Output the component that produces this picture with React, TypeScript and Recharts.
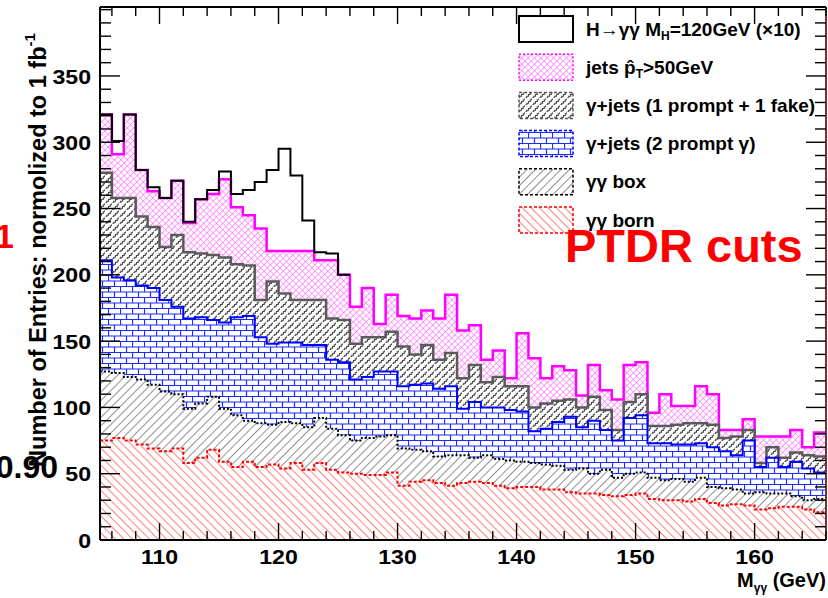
import { Area, ComposedChart, Line, XAxis, YAxis } from "recharts";

// 1 GeV bins, lower edges (GeV)
const massBins = [
  105, 106, 107, 108, 109, 110, 111, 112, 113, 114, 115, 116, 117, 118, 119, 120,
  121, 122, 123, 124, 125, 126, 127, 128, 129, 130, 131, 132, 133, 134, 135, 136,
  137, 138, 139, 140, 141, 142, 143, 144, 145, 146, 147, 148, 149, 150, 151, 152,
  153, 154, 155, 156, 157, 158, 159, 160, 161, 162, 163, 164, 165,
];
const upperEdge = 166;

const massTicks = [110, 120, 130, 140, 150, 160];
const massMinorTicks = [
  106, 108, 112, 114, 116, 118, 122, 124, 126, 128, 132, 134, 136, 138, 142, 144,
  146, 148, 152, 154, 156, 158, 162, 164, 166,
];
const entryTicks = [0, 50, 100, 150, 200, 250, 300, 350];
const entryMinorTicks = [
  10, 20, 30, 40, 60, 70, 80, 90, 110, 120, 130, 140, 160, 170, 180, 190, 210, 220,
  230, 240, 260, 270, 280, 290, 310, 320, 330, 340, 360, 370, 380, 390, 400,
];

// stacked (cumulative) bin contents, bottom layer first
const stackBorn = [
  75, 77, 75, 72, 69, 67, 69, 58, 62, 68, 59, 55, 59, 55, 57, 54, 58, 53, 58, 53, 51,
  50, 49, 49, 51, 41, 44, 45, 43, 41, 43, 44, 43, 41, 39, 40, 40, 38, 38, 36, 35, 35,
  34, 33, 34, 35, 31, 30, 30, 29, 31, 28, 26, 27, 26, 23, 24, 25, 25, 23, 21,
];
const stackBox = [
  127, 126, 123, 121, 117, 112, 110, 99, 103, 108, 99, 94, 90, 88, 87, 89, 88, 85, 92,
  84, 79, 75, 77, 78, 79, 69, 68, 67, 63, 64, 64, 62, 64, 61, 60, 59, 58, 57, 56, 53,
  54, 50, 53, 47, 50, 51, 47, 45, 46, 44, 47, 40, 39, 38, 35, 36, 35, 35, 33, 30, 31,
];
const stackPrompt2 = [
  211, 198, 196, 192, 190, 181, 176, 167, 168, 166, 164, 168, 169, 153, 148, 149, 149,
  147, 147, 136, 134, 121, 123, 127, 127, 116, 117, 118, 114, 116, 99, 104, 100, 100,
  98, 97, 82, 84, 89, 93, 85, 90, 83, 75, 92, 94, 73, 73, 72, 72, 73, 70, 67, 64, 75,
  55, 62, 55, 59, 54, 51,
];
const stackFake1 = [
  277, 258, 258, 244, 236, 221, 230, 217, 216, 215, 213, 208, 207, 181, 195, 186, 181,
  181, 181, 167, 166, 148, 153, 153, 157, 146, 140, 147, 136, 141, 122, 132, 119, 123,
  116, 116, 100, 103, 105, 106, 100, 108, 98, 83, 104, 110, 86, 86, 87, 88, 88, 87,
  77, 78, 83, 58, 70, 62, 66, 64, 63,
];
const stackJets = [
  321, 291, 321, 279, 263, 258, 271, 239, 257, 261, 272, 251, 245, 235, 218, 218, 218,
  218, 211, 211, 200, 176, 190, 163, 185, 169, 167, 173, 167, 185, 158, 162, 136, 143,
  122, 156, 137, 122, 131, 128, 109, 132, 113, 106, 132, 134, 96, 110, 101, 101, 116,
  110, 83, 83, 91, 78, 78, 78, 83, 70, 81,
];
// background + H->gg (x10), only where the signal sits (105-125 GeV)
const stackSignal = [
  321, 301, 321, 279, 266, 258, 271, 240, 257, 264, 278, 261, 264, 270, 279, 295, 275,
  241, 217, 216, 200,
];

const rows = [...massBins, upperEdge].map((m, i) => {
  const k = Math.min(i, massBins.length - 1);
  let signal: number | null = null;
  if (i < stackSignal.length) signal = stackSignal[i];
  else if (i === stackSignal.length) signal = stackSignal[i - 1];
  return {
    m,
    born: stackBorn[k],
    box: stackBox[k],
    prompt2: stackPrompt2[k],
    fake1: stackFake1[k],
    jets: stackJets[k],
    signal,
  };
});

const massAxisTicks = [...massTicks, ...massMinorTicks].sort((a, b) => a - b);
const entryAxisTicks = [...entryTicks, ...entryMinorTicks].sort((a, b) => a - b);

const FONT = '"Liberation Sans", Arial, Helvetica, sans-serif';
const X_DOMAIN: [number, number] = [105, 166];
const Y_DOMAIN: [number, number] = [0, 402];
const LABEL_GAP = 9;

// ROOT-style ticks: drawn inwards from the frame, labels only on the majors
function BottomTick(props: any) {
  const { x, y, payload } = props;
  const major = massTicks.includes(payload.value);
  const base = y - LABEL_GAP;
  return (
    <g>
      <line x1={x} x2={x} y1={base} y2={base - (major ? 17 : 9)} stroke="#000" strokeWidth={1.4} />
      {major && (
        <text
          transform={`translate(${x},${y}) scale(1.1,1)`}
          dy="0.72em"
          textAnchor="middle"
          fontFamily={FONT}
          fontWeight={700}
          fontSize={21}
          fill="#000"
        >
          {payload.value}
        </text>
      )}
    </g>
  );
}

function LeftTick(props: any) {
  const { x, y, payload } = props;
  const major = entryTicks.includes(payload.value);
  const base = x + LABEL_GAP;
  return (
    <g>
      <line x1={base} x2={base + (major ? 20 : 11)} y1={y} y2={y} stroke="#000" strokeWidth={1.4} />
      {major && (
        <text
          transform={`translate(${x},${y}) scale(1.1,1)`}
          dy="0.36em"
          textAnchor="end"
          fontFamily={FONT}
          fontWeight={700}
          fontSize={21}
          fill="#000"
        >
          {payload.value}
        </text>
      )}
    </g>
  );
}

function TopTick(props: any) {
  const { x, y, payload } = props;
  const major = massTicks.includes(payload.value);
  return <line x1={x} x2={x} y1={y} y2={y + (major ? 17 : 9)} stroke="#000" strokeWidth={1.4} />;
}

function RightTick(props: any) {
  const { x, y, payload } = props;
  const major = entryTicks.includes(payload.value);
  return <line x1={x} x2={x - (major ? 20 : 11)} y1={y} y2={y} stroke="#000" strokeWidth={1.4} />;
}

const legendRows = [
  { fill: "#fff", stroke: "#000", dash: undefined, width: 2 },
  { fill: "url(#hatchJets)", stroke: "#ff00ff", dash: "2 2", width: 1.5 },
  { fill: "url(#hatchFake)", stroke: "#555", dash: "3 2", width: 1.5 },
  { fill: "url(#hatchPrompt)", stroke: "#0000ff", dash: "3 2", width: 1.5 },
  { fill: "url(#hatchBox)", stroke: "#000", dash: "3 2", width: 1.5 },
  { fill: "url(#hatchBorn)", stroke: "#ff0000", dash: "3 2", width: 1.5 },
];
const legendLabels = ["", "", "γ+jets (1 prompt + 1 fake)", "γ+jets (2 prompt γ)", "γγ box", "γγ born"];

function LegendLabel({ i, y }: { i: number; y: number }) {
  const common = {
    x: 586,
    y,
    fontFamily: FONT,
    fontWeight: 700,
    fontSize: 19,
    fill: "#000",
    dominantBaseline: "central" as const,
  };
  if (i === 0)
    return (
      <text {...common}>
        H→γγ M<tspan dy={7} fontSize={12}>H</tspan>
        <tspan dy={-7}>=120GeV (×10)</tspan>
      </text>
    );
  if (i === 1)
    return (
      <text {...common}>
        jets p̂<tspan dy={7} fontSize={12}>T</tspan>
        <tspan dy={-7}>&gt;50GeV</tspan>
      </text>
    );
  return <text {...common}>{legendLabels[i]}</text>;
}

export default function App() {
  return (
    <div style={{ position: "absolute", left: 0, top: 0, width: 828, height: 598, background: "#fff" }}>
      <ComposedChart width={828} height={598} data={rows} margin={{ top: 0, right: 0, left: 0, bottom: 28 }}>
        <defs>
          <pattern id="hatchBorn" width="6" height="6" patternUnits="userSpaceOnUse" patternTransform="rotate(-45)">
            <rect width="6" height="6" fill="#fff" />
            <line x1="0" y1="0" x2="0" y2="6" stroke="#ff2a2a" strokeWidth="1.2" />
          </pattern>
          <pattern id="hatchBox" width="6" height="6" patternUnits="userSpaceOnUse" patternTransform="rotate(45)">
            <rect width="6" height="6" fill="#fff" />
            <line x1="0" y1="0" x2="0" y2="6" stroke="#222" strokeWidth="1" />
          </pattern>
          <pattern id="hatchPrompt" width="12" height="11" patternUnits="userSpaceOnUse">
            <rect width="12" height="11" fill="#fff" />
            <path d="M0,0.5 H12 M0,6 H12 M0.5,0.5 V6 M6.5,6 V11" stroke="#1a2cff" strokeWidth="1.2" fill="none" />
          </pattern>
          <pattern id="hatchFake" width="7" height="7" patternUnits="userSpaceOnUse">
            <rect width="7" height="7" fill="#fff" />
            <path d="M0,7 H1.75 V5.25 H3.5 V3.5 H5.25 V1.75 H7 V0" stroke="#4a4a4a" strokeWidth="1.1" fill="none" />
          </pattern>
          <pattern id="hatchJets" width="4.5" height="4.5" patternUnits="userSpaceOnUse" patternTransform="rotate(45)">
            <rect width="4.5" height="4.5" fill="#fff" />
            <path d="M0,0 V4.5 M0,0 H4.5" stroke="#ff4dff" strokeWidth="1.1" fill="none" />
          </pattern>
        </defs>

        <XAxis
          dataKey="m"
          type="number"
          domain={X_DOMAIN}
          allowDataOverflow
          ticks={massAxisTicks}
          interval={0}
          height={30}
          tickSize={0}
          tickMargin={LABEL_GAP}
          tickLine={false}
          axisLine={{ stroke: "#000", strokeWidth: 2 }}
          tick={<BottomTick />}
        />
        <XAxis
          xAxisId="top"
          dataKey="m"
          type="number"
          orientation="top"
          domain={X_DOMAIN}
          allowDataOverflow
          ticks={massAxisTicks}
          interval={0}
          height={7}
          tickSize={0}
          tickMargin={0}
          tickLine={false}
          axisLine={{ stroke: "#000", strokeWidth: 2 }}
          tick={<TopTick />}
        />
        <YAxis
          type="number"
          domain={Y_DOMAIN}
          allowDataOverflow
          ticks={entryAxisTicks}
          interval={0}
          width={100}
          tickSize={0}
          tickMargin={LABEL_GAP}
          tickLine={false}
          axisLine={{ stroke: "#000", strokeWidth: 2 }}
          tick={<LeftTick />}
        />
        <YAxis
          yAxisId="right"
          type="number"
          orientation="right"
          domain={Y_DOMAIN}
          allowDataOverflow
          ticks={entryAxisTicks}
          interval={0}
          width={2}
          tickSize={0}
          tickMargin={0}
          tickLine={false}
          axisLine={{ stroke: "#7a3030", strokeWidth: 2 }}
          tick={<RightTick />}
        />

        <Area type="stepAfter" dataKey="jets" fill="url(#hatchJets)" fillOpacity={1} stroke="#ff00ff" strokeWidth={2.5} isAnimationActive={false} dot={false} activeDot={false} />
        <Area type="stepAfter" dataKey="fake1" fill="url(#hatchFake)" fillOpacity={1} stroke="#5a5a5a" strokeWidth={2.5} isAnimationActive={false} dot={false} activeDot={false} />
        <Area type="stepAfter" dataKey="prompt2" fill="url(#hatchPrompt)" fillOpacity={1} stroke="#0000ff" strokeWidth={2} isAnimationActive={false} dot={false} activeDot={false} />
        <Area type="stepAfter" dataKey="box" fill="url(#hatchBox)" fillOpacity={1} stroke="#000" strokeWidth={2} strokeDasharray="2 2" isAnimationActive={false} dot={false} activeDot={false} />
        <Area type="stepAfter" dataKey="born" fill="url(#hatchBorn)" fillOpacity={1} stroke="#ff0000" strokeWidth={2} strokeDasharray="3 2" isAnimationActive={false} dot={false} activeDot={false} />
        <Line type="stepAfter" dataKey="signal" stroke="#000" strokeWidth={2} dot={false} activeDot={false} connectNulls={false} isAnimationActive={false} />
        {/* invisible copy that binds the top and right frame axes */}
        <Line xAxisId="top" yAxisId="right" type="stepAfter" dataKey="jets" stroke="none" dot={false} activeDot={false} isAnimationActive={false} />
      </ComposedChart>

      <svg width={828} height={598} style={{ position: "absolute", left: 0, top: 0, pointerEvents: "none" }}>
        {legendRows.map((r, i) => (
          <g key={i}>
            <rect x={519} y={16 + i * 38.2} width={54} height={26} fill={r.fill} stroke={r.stroke} strokeWidth={r.width} strokeDasharray={r.dash} />
            <LegendLabel i={i} y={29 + i * 38.2} />
          </g>
        ))}
        <text x={565} y={262} fontFamily={FONT} fontWeight={700} fontSize={47} fill="#ff0000">
          PTDR cuts
        </text>
        <text x={14} y={248} textAnchor="end" fontFamily={FONT} fontWeight={700} fontSize={34} fill="#ff0000">
          1
        </text>
        <text x={58} y={478} textAnchor="end" fontFamily={FONT} fontWeight={700} fontSize={32} fill="#000">
          0.90
        </text>
        <text
          transform="translate(38,250) rotate(-90)"
          textAnchor="middle"
          fontFamily={FONT}
          fontWeight={700}
          fontSize={23.5}
          fill="#000"
          dominantBaseline="central"
        >
          Number of Entries: normolized to 1 fb<tspan dy={-9} fontSize={15}>-1</tspan>
        </text>
        <text x={826} y={587} textAnchor="end" fontFamily={FONT} fontWeight={700} fontSize={20} fill="#000">
          M<tspan dy={5} fontSize={12}>γγ</tspan>
          <tspan dy={-5}> (GeV)</tspan>
        </text>
      </svg>
    </div>
  );
}
